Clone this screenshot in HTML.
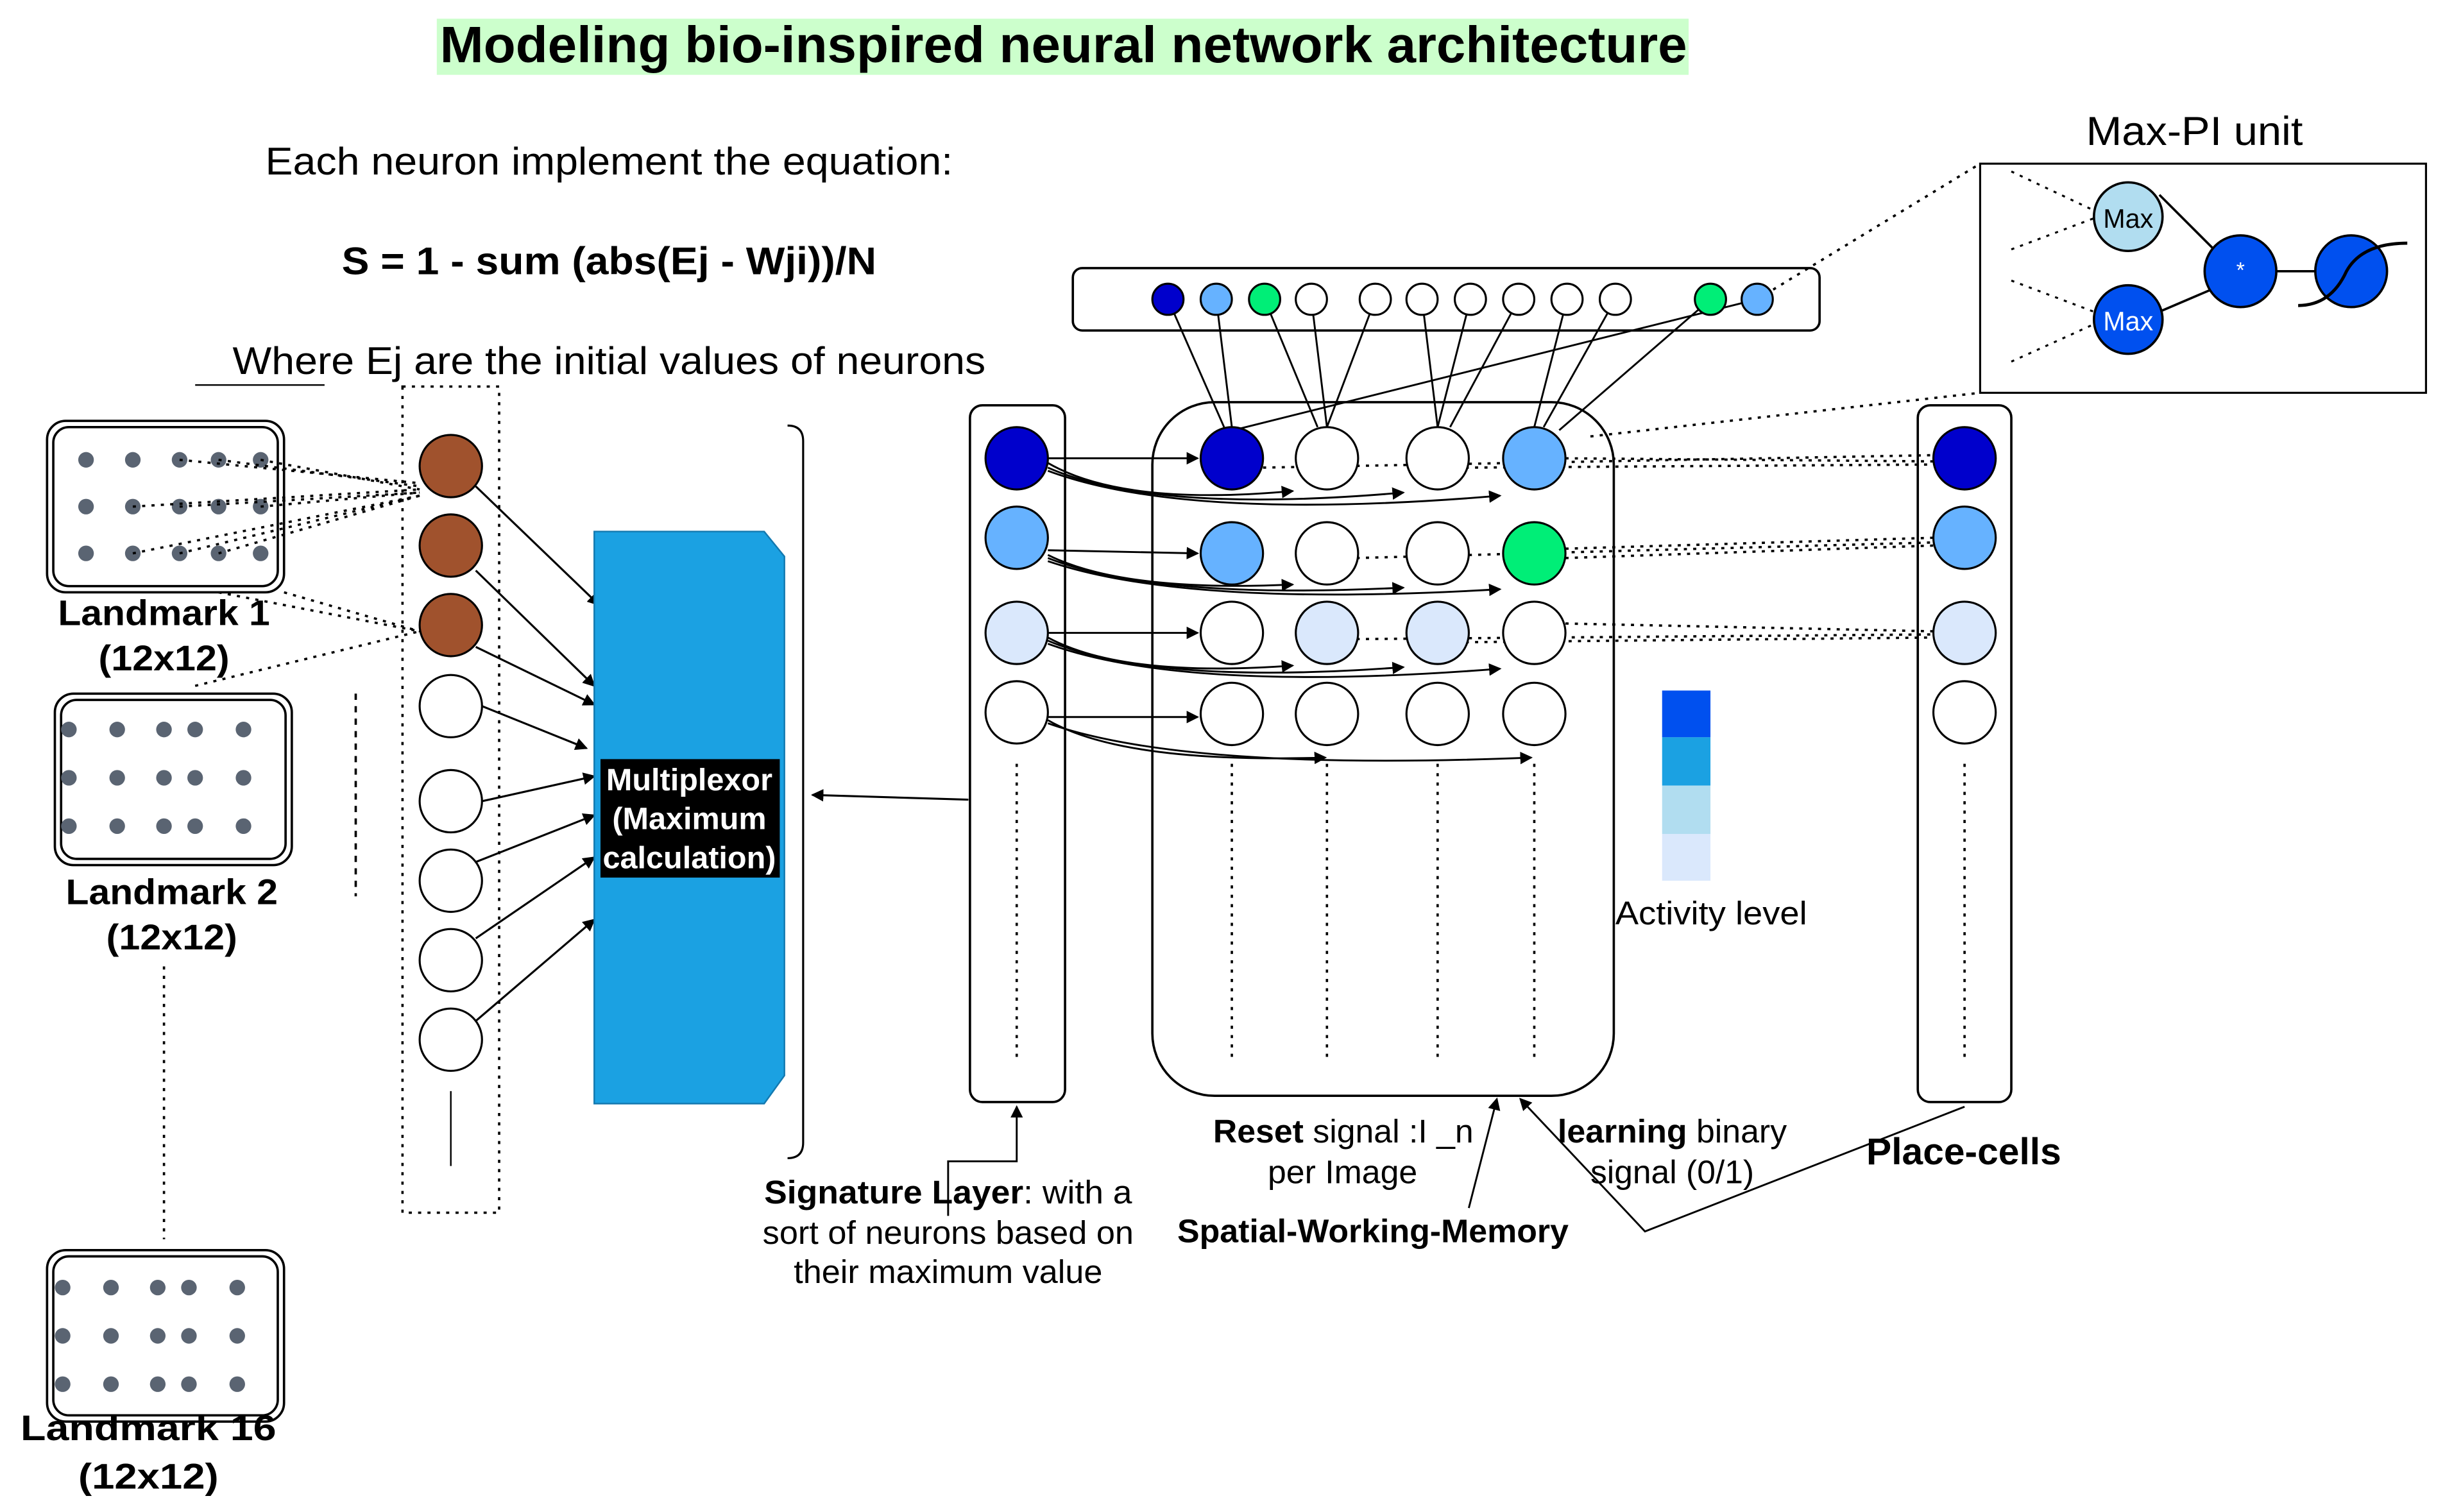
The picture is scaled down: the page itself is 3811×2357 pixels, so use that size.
<!DOCTYPE html>
<html><head><meta charset="utf-8"><style>html,body{margin:0;padding:0;background:#fff}svg{display:block}text{font-family:"Liberation Sans",Arial,sans-serif}</style></head><body>
<svg width="3811" height="2357" viewBox="0 0 1568 970" xmlns="http://www.w3.org/2000/svg">
<defs><marker id="a" markerWidth="8" markerHeight="8" refX="7" refY="4" orient="auto" markerUnits="userSpaceOnUse"><path d="M0,0 L8,4 L0,8 Z" fill="#000"/></marker></defs>
<rect x="280" y="12" width="803" height="36" fill="#CCFFCC"/>
<text x="282" y="40" font-size="33" font-weight="bold" textLength="800" lengthAdjust="spacingAndGlyphs">Modeling bio-inspired neural network architecture</text>
<text x="170" y="112" font-size="25" textLength="441" lengthAdjust="spacingAndGlyphs">Each neuron implement the equation:</text>
<text x="219" y="176" font-size="25" font-weight="bold" textLength="343" lengthAdjust="spacingAndGlyphs">S = 1 - sum (abs(Ej - Wji))/N</text>
<text x="149" y="240" font-size="25" textLength="483" lengthAdjust="spacingAndGlyphs">Where Ej are the initial values of neurons</text>
<line x1="125" y1="247" x2="208" y2="247" stroke="#000"/>
<g fill="none" stroke="#000" stroke-width="1.5">
<rect x="30" y="270" width="152" height="110" rx="12"/><rect x="34" y="274" width="144" height="102" rx="10"/>
<rect x="35" y="445" width="152" height="110" rx="12"/><rect x="39" y="449" width="144" height="102" rx="10"/>
<rect x="30" y="802" width="152" height="110" rx="12"/><rect x="34" y="806" width="144" height="102" rx="10"/>
</g>
<g fill="#5a6472">
<g id="d1"><circle cx="55" cy="295" r="5"/><circle cx="85" cy="295" r="5"/><circle cx="115" cy="295" r="5"/><circle cx="140" cy="295" r="5"/><circle cx="167" cy="295" r="5"/></g>
<use href="#d1" y="30"/><use href="#d1" y="60"/>
<g id="d2"><circle cx="44" cy="468" r="5"/><circle cx="75" cy="468" r="5"/><circle cx="105" cy="468" r="5"/><circle cx="125" cy="468" r="5"/><circle cx="156" cy="468" r="5"/></g>
<use href="#d2" y="31"/><use href="#d2" y="62"/>
<use href="#d2" x="-4" y="358"/><use href="#d2" x="-4" y="389"/><use href="#d2" x="-4" y="420"/>
</g>
<g font-size="23" font-weight="bold">
<text x="37" y="401" textLength="136" lengthAdjust="spacingAndGlyphs">Landmark 1</text><text x="63" y="430" textLength="84" lengthAdjust="spacingAndGlyphs">(12x12)</text>
<text x="42" y="580" textLength="136" lengthAdjust="spacingAndGlyphs">Landmark 2</text><text x="68" y="609" textLength="84" lengthAdjust="spacingAndGlyphs">(12x12)</text>
<text x="13" y="924" textLength="164" lengthAdjust="spacingAndGlyphs">Landmark 16</text><text x="50" y="955" textLength="90" lengthAdjust="spacingAndGlyphs">(12x12)</text>
</g>
<g stroke="#000" stroke-width="1.5" stroke-dasharray="2,4" fill="none">
<line x1="105" y1="620" x2="105" y2="795"/>
<line x1="228" y1="445" x2="228" y2="575" stroke-dasharray="4,4"/>
<rect x="258" y="248" width="62" height="530"/>
<line x1="115" y1="295" x2="269" y2="310"/><line x1="140" y1="295" x2="269" y2="312"/><line x1="167" y1="295" x2="269" y2="314"/>
<line x1="85" y1="325" x2="269" y2="314"/><line x1="115" y1="325" x2="269" y2="316"/><line x1="167" y1="325" x2="269" y2="316"/>
<line x1="85" y1="355" x2="269" y2="318"/><line x1="115" y1="355" x2="269" y2="318"/><line x1="140" y1="355" x2="269" y2="318"/>
<line x1="182" y1="380" x2="269" y2="405"/><line x1="140" y1="380" x2="269" y2="405"/><line x1="125" y1="440" x2="269" y2="405"/>
</g>
<line x1="289" y1="700" x2="289" y2="748" stroke="#000"/>
<g stroke="#000" stroke-width="1.3">
<circle cx="289" cy="299" r="20" fill="#A0522D"/><circle cx="289" cy="350" r="20" fill="#A0522D"/><circle cx="289" cy="401" r="20" fill="#A0522D"/>
<g fill="#fff"><circle cx="289" cy="453" r="20"/><circle cx="289" cy="514" r="20"/><circle cx="289" cy="565" r="20"/><circle cx="289" cy="616" r="20"/><circle cx="289" cy="667" r="20"/></g>
</g>
<g stroke="#000" stroke-width="1.3" marker-end="url(#a)">
<line x1="305" y1="312" x2="384" y2="388"/><line x1="305" y1="366" x2="381" y2="440"/><line x1="305" y1="415" x2="381" y2="452"/>
<line x1="309" y1="453" x2="376" y2="480"/><line x1="309" y1="514" x2="381" y2="498"/><line x1="305" y1="553" x2="381" y2="523"/>
<line x1="305" y1="602" x2="381" y2="550"/><line x1="305" y1="655" x2="381" y2="590"/>
<line x1="621" y1="513" x2="521" y2="510"/>
</g>
<polygon points="381,341 490,341 503,357 503,690 490,708 381,708" fill="#1BA1E2" stroke="#1379b0"/>
<rect x="385" y="487" width="115" height="76" fill="#000"/>
<g font-size="20" font-weight="bold" fill="#fff" text-anchor="middle"><text x="442" y="507">Multiplexor</text><text x="442" y="532">(Maximum</text><text x="442" y="557">calculation)</text></g>
<path d="M505,273 Q515,273 515,283 L515,733 Q515,743 505,743" fill="none" stroke="#000" stroke-width="1.3"/>
<rect x="622" y="260" width="61" height="447" rx="8" fill="none" stroke="#000" stroke-width="1.5"/>
<rect x="739" y="258" width="296" height="445" rx="40" fill="none" stroke="#000" stroke-width="1.5"/>
<rect x="1230" y="260" width="60" height="447" rx="8" fill="none" stroke="#000" stroke-width="1.5"/>
<rect x="688" y="172" width="479" height="40" rx="6" fill="none" stroke="#000" stroke-width="1.5"/>
<g stroke="#000" stroke-dasharray="2,4" stroke-width="1.5">
<line x1="652" y1="490" x2="652" y2="680"/><line x1="790" y1="490" x2="790" y2="680"/><line x1="851" y1="490" x2="851" y2="680"/><line x1="922" y1="490" x2="922" y2="680"/><line x1="984" y1="490" x2="984" y2="680"/><line x1="1260" y1="490" x2="1260" y2="680"/>
<line x1="1127" y1="192" x2="1270" y2="105"/><line x1="1020" y1="280" x2="1270" y2="252"/>
<line x1="810" y1="300" x2="1240" y2="292"/><line x1="1004" y1="294" x2="1240" y2="296"/><line x1="940" y1="300" x2="1240" y2="298"/>
<line x1="1004" y1="352" x2="1240" y2="345"/><line x1="870" y1="358" x2="1240" y2="348"/><line x1="1004" y1="358" x2="1240" y2="350"/>
<line x1="1004" y1="400" x2="1240" y2="405"/><line x1="870" y1="410" x2="1240" y2="407"/><line x1="940" y1="412" x2="1240" y2="409"/>
</g>
<g stroke="#000" stroke-width="1.2">
<line x1="749" y1="192" x2="785" y2="274"/><line x1="780" y1="192" x2="790" y2="274"/><line x1="811" y1="192" x2="845" y2="274"/><line x1="841" y1="192" x2="851" y2="274"/>
<line x1="882" y1="192" x2="851" y2="274"/><line x1="912" y1="192" x2="922" y2="274"/><line x1="943" y1="192" x2="922" y2="274"/><line x1="974" y1="192" x2="930" y2="274"/>
<line x1="1005" y1="192" x2="984" y2="274"/><line x1="1036" y1="192" x2="990" y2="274"/><line x1="1097" y1="192" x2="1000" y2="276"/><line x1="1127" y1="192" x2="795" y2="275"/>
</g>
<g stroke="#000" stroke-width="1.2" fill="none" marker-end="url(#a)">
<line x1="672" y1="294" x2="768" y2="294"/><path d="M672,297 Q720,325 829,315"/><path d="M672,300 Q740,330 900,316"/><path d="M672,302 Q760,335 962,318"/>
<line x1="672" y1="353" x2="768" y2="355"/><path d="M672,356 Q720,380 829,375"/><path d="M672,358 Q740,385 900,377"/><path d="M672,360 Q760,390 962,378"/>
<line x1="672" y1="406" x2="768" y2="406"/><path d="M672,409 Q720,435 829,427"/><path d="M672,411 Q740,440 900,428"/><path d="M672,413 Q760,445 962,429"/>
<line x1="672" y1="460" x2="768" y2="460"/><path d="M672,462 Q720,490 850,486"/><path d="M672,464 Q760,495 982,486"/>
<path d="M608,780 L608,745 L652,745 L652,710"/>
<line x1="942" y1="775" x2="960" y2="705"/>
<path d="M1260,710 L1055,790 L975,705"/>
</g>
<g stroke="#000" stroke-width="1.3">
<circle cx="790" cy="294" r="20" fill="#0000CC"/><circle cx="851" cy="294" r="20" fill="#fff"/><circle cx="922" cy="294" r="20" fill="#fff"/><circle cx="984" cy="294" r="20" fill="#66B2FF"/>
<circle cx="790" cy="355" r="20" fill="#66B2FF"/><circle cx="851" cy="355" r="20" fill="#fff"/><circle cx="922" cy="355" r="20" fill="#fff"/><circle cx="984" cy="355" r="20" fill="#00EE77"/>
<circle cx="790" cy="406" r="20" fill="#fff"/><circle cx="851" cy="406" r="20" fill="#DAE8FC"/><circle cx="922" cy="406" r="20" fill="#DAE8FC"/><circle cx="984" cy="406" r="20" fill="#fff"/>
<circle cx="790" cy="458" r="20" fill="#fff"/><circle cx="851" cy="458" r="20" fill="#fff"/><circle cx="922" cy="458" r="20" fill="#fff"/><circle cx="984" cy="458" r="20" fill="#fff"/>
<circle cx="652" cy="294" r="20" fill="#0000CC"/><circle cx="652" cy="345" r="20" fill="#66B2FF"/><circle cx="652" cy="406" r="20" fill="#DAE8FC"/><circle cx="652" cy="457" r="20" fill="#fff"/>
<circle cx="1260" cy="294" r="20" fill="#0000CC"/><circle cx="1260" cy="345" r="20" fill="#66B2FF"/><circle cx="1260" cy="406" r="20" fill="#DAE8FC"/><circle cx="1260" cy="457" r="20" fill="#fff"/>
<circle cx="749" cy="192" r="10" fill="#0000CC"/><circle cx="780" cy="192" r="10" fill="#66B2FF"/><circle cx="811" cy="192" r="10" fill="#00EE77"/>
<g fill="#fff"><circle cx="841" cy="192" r="10"/><circle cx="882" cy="192" r="10"/><circle cx="912" cy="192" r="10"/><circle cx="943" cy="192" r="10"/><circle cx="974" cy="192" r="10"/><circle cx="1005" cy="192" r="10"/><circle cx="1036" cy="192" r="10"/></g>
<circle cx="1097" cy="192" r="10" fill="#00EE77"/><circle cx="1127" cy="192" r="10" fill="#66B2FF"/>
</g>
<rect x="1066" y="443" width="31" height="30" fill="#0050EF"/><rect x="1066" y="473" width="31" height="31" fill="#1BA1E2"/><rect x="1066" y="504" width="31" height="31" fill="#B1DDF0"/><rect x="1066" y="535" width="31" height="30" fill="#DAE8FC"/>
<text x="1036" y="593" font-size="21" textLength="123" lengthAdjust="spacingAndGlyphs">Activity level</text>
<rect x="1270" y="105" width="286" height="147" fill="#fff" stroke="#000" stroke-width="1.3"/>
<text x="1338" y="93" font-size="26" textLength="139" lengthAdjust="spacingAndGlyphs">Max-PI unit</text>
<g stroke="#000" stroke-dasharray="2,4" stroke-width="1.3"><line x1="1290" y1="110" x2="1343" y2="135"/><line x1="1290" y1="160" x2="1343" y2="140"/><line x1="1290" y1="180" x2="1343" y2="200"/><line x1="1290" y1="232" x2="1343" y2="208"/></g>
<g stroke="#000" stroke-width="1.5"><line x1="1385" y1="125" x2="1420" y2="160"/><line x1="1385" y1="200" x2="1420" y2="185"/><line x1="1460" y1="174" x2="1485" y2="174"/>
<circle cx="1365" cy="139" r="22" fill="#B1DDF0"/><circle cx="1365" cy="205" r="22" fill="#0050EF"/><circle cx="1437" cy="174" r="23" fill="#0050EF"/><circle cx="1508" cy="174" r="23" fill="#0050EF"/></g>
<path d="M1474,196 Q1495,196 1505,174 Q1515,156 1544,156" fill="none" stroke="#000" stroke-width="2"/>
<text x="1365" y="146" font-size="17" text-anchor="middle">Max</text><text x="1365" y="212" font-size="17" fill="#fff" text-anchor="middle">Max</text><text x="1437" y="178" font-size="14" fill="#fff" text-anchor="middle">*</text>
<g font-size="21" lengthAdjust="spacingAndGlyphs">
<text x="490" y="772" textLength="236" lengthAdjust="spacingAndGlyphs"><tspan font-weight="bold">Signature Layer</tspan>:  with a</text>
<text x="489" y="798" textLength="238" lengthAdjust="spacingAndGlyphs">sort of neurons based on</text><text x="509" y="823" textLength="198" lengthAdjust="spacingAndGlyphs">their maximum value</text>
<text x="778" y="733" textLength="167" lengthAdjust="spacingAndGlyphs"><tspan font-weight="bold">Reset</tspan> signal :I _n</text><text x="813" y="759" textLength="96" lengthAdjust="spacingAndGlyphs">per Image</text>
<text x="755" y="797" font-weight="bold" textLength="251" lengthAdjust="spacingAndGlyphs">Spatial-Working-Memory</text>
<text x="999" y="733" textLength="147" lengthAdjust="spacingAndGlyphs"><tspan font-weight="bold">learning</tspan> binary</text><text x="1020" y="759" textLength="105" lengthAdjust="spacingAndGlyphs">signal (0/1)</text>
<text x="1197" y="747" font-size="24" font-weight="bold" textLength="125" lengthAdjust="spacingAndGlyphs">Place-cells</text>
</g>
</svg>
</body></html>
